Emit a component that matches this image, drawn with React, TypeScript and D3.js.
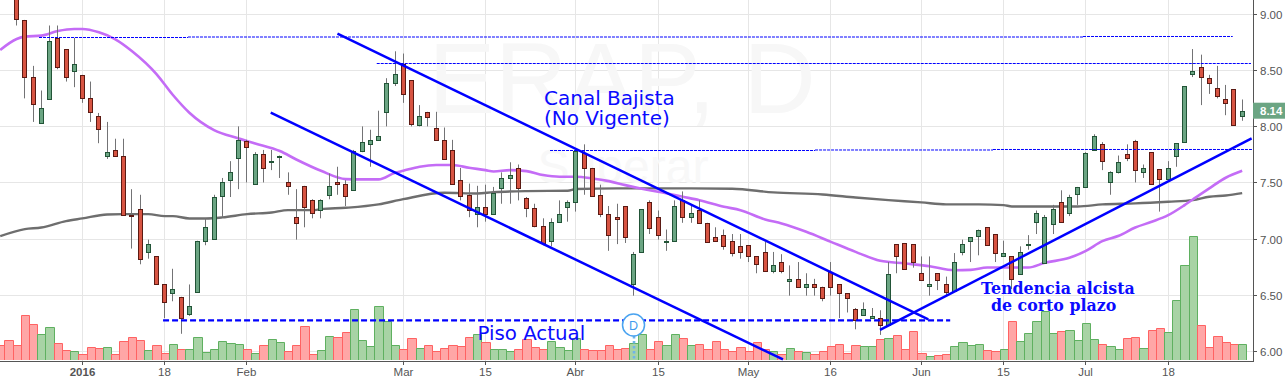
import React from "react";
import * as d3 from "d3";

const opens = [
  9.60,9.45,9.25,8.95,8.44,8.03,8.24,8.79,8.69,8.49,
  8.46,8.25,8.09,7.74,7.79,7.74,7.21,7.26,6.88,6.84,
  6.59,6.51,6.48,6.33,6.52,6.98,7.00,7.38,7.52,7.72,
  7.87,7.49,7.75,7.68,7.73,7.50,7.19,7.47,7.34,7.25,
  7.39,7.50,7.49,7.43,7.78,7.84,7.88,8.13,8.39,8.56,
  8.41,8.01,8.13,7.99,7.88,7.79,7.52,7.39,7.22,7.28,
  7.22,7.45,7.54,7.63,7.36,7.27,7.11,6.98,7.15,7.28,
  7.33,7.76,7.63,7.39,7.22,7.19,7.29,6.59,6.88,7.33,
  7.19,6.97,6.98,7.34,7.19,7.25,7.14,7.01,7.03,6.98,
  6.93,6.94,6.84,6.88,6.71,6.79,6.62,6.64,6.57,6.59,
  6.57,6.70,6.59,6.51,6.37,6.32,6.29,6.29,6.23,6.95,
  6.96,6.95,6.69,6.58,6.69,6.59,6.53,6.88,6.98,7.02,
  7.10,7.04,6.84,6.84,6.68,6.94,7.15,6.78,7.13,7.33,
  7.23,7.40,7.46,7.79,7.84,7.50,7.59,7.75,7.87,7.59,
  7.77,7.62,7.53,7.74,7.86,8.47,8.53,8.43,8.34,8.24,
  8.33,8.09,
];
const highs = [
  9.65,9.50,9.30,8.95,8.54,8.32,8.90,8.90,8.69,8.79,
  8.46,8.40,8.12,8.04,7.89,7.89,7.44,7.39,6.99,6.84,
  6.59,6.73,6.48,6.59,6.98,7.18,7.39,7.54,7.69,8.00,
  7.88,7.77,7.79,7.79,7.74,7.59,7.44,7.47,7.35,7.35,
  7.58,7.64,7.52,7.79,8.00,7.97,8.14,8.43,8.67,8.65,
  8.41,8.19,8.13,8.13,7.99,7.88,7.63,7.49,7.47,7.48,
  7.46,7.59,7.68,7.66,7.37,7.31,7.18,7.18,7.34,7.34,
  7.79,7.84,7.63,7.48,7.29,7.31,7.29,6.88,7.26,7.34,
  7.25,7.08,7.34,7.42,7.29,7.34,7.14,7.10,7.08,7.04,
  7.04,6.94,6.84,6.97,6.88,6.86,6.76,6.79,6.69,6.64,
  6.57,6.79,6.59,6.51,6.38,6.43,6.38,6.36,6.79,6.95,
  6.96,6.95,6.84,6.84,6.69,6.66,6.87,6.99,7.01,7.08,
  7.10,7.04,6.98,6.84,6.93,7.03,7.25,7.21,7.30,7.43,
  7.39,7.46,7.77,7.93,7.86,7.60,7.74,7.84,7.88,7.66,
  7.77,7.62,7.69,7.85,8.36,8.69,8.64,8.46,8.54,8.37,
  8.33,8.24,
];
const lows = [
  9.40,9.20,8.90,8.25,8.04,8.03,8.24,8.51,8.40,8.35,
  8.21,8.04,7.85,7.71,7.74,7.21,6.91,6.77,6.82,6.59,
  6.29,6.44,6.15,6.31,6.52,6.94,7.00,7.19,7.37,7.44,
  7.50,7.49,7.50,7.61,7.54,7.39,6.99,7.10,7.18,7.18,
  7.35,7.39,7.29,7.43,7.77,7.64,7.88,8.00,8.36,8.21,
  8.00,8.00,8.00,7.88,7.71,7.49,7.34,7.19,7.10,7.15,
  7.22,7.31,7.31,7.34,7.19,7.10,6.94,6.93,7.15,7.15,
  7.24,7.39,7.38,7.19,6.89,6.95,6.96,6.49,6.88,7.04,
  6.99,6.89,6.98,7.14,7.14,7.14,6.97,6.98,6.90,6.84,
  6.82,6.79,6.69,6.71,6.69,6.69,6.49,6.57,6.49,6.49,
  6.44,6.49,6.29,6.34,6.19,6.32,6.29,6.14,6.23,6.69,
  6.73,6.74,6.63,6.49,6.54,6.49,6.53,6.85,6.79,6.85,
  6.94,6.79,6.84,6.55,6.68,6.90,7.04,6.78,7.04,7.15,
  7.20,7.30,7.46,7.79,7.61,7.39,7.58,7.69,7.50,7.54,
  7.49,7.24,7.53,7.64,7.86,8.44,8.19,8.29,8.25,8.10,
  8.01,8.05,
];
const closes = [
  9.45,9.25,8.96,8.44,8.20,8.16,8.76,8.53,8.44,8.56,
  8.25,8.13,7.98,7.77,7.74,7.21,7.20,6.82,6.95,6.59,
  6.43,6.55,6.29,6.40,6.98,7.10,7.37,7.50,7.59,7.88,
  7.82,7.75,7.63,7.69,7.74,7.47,7.14,7.28,7.23,7.34,
  7.47,7.49,7.38,7.78,7.86,7.88,7.91,8.39,8.47,8.29,
  8.02,8.09,8.08,7.88,7.71,7.49,7.38,7.25,7.28,7.22,
  7.41,7.54,7.57,7.45,7.27,7.11,6.96,7.15,7.22,7.33,
  7.78,7.63,7.38,7.22,7.03,7.17,7.01,6.86,7.26,7.09,
  7.03,6.98,7.29,7.19,7.23,7.14,6.97,6.98,6.93,6.87,
  6.88,6.84,6.77,6.71,6.76,6.71,6.64,6.57,6.59,6.57,
  6.47,6.57,6.51,6.47,6.27,6.37,6.31,6.23,6.68,6.84,
  6.73,6.79,6.63,6.59,6.63,6.52,6.79,6.95,7.01,7.08,
  6.94,6.87,6.87,6.64,6.88,6.95,7.23,7.19,7.26,7.15,
  7.37,7.46,7.76,7.91,7.69,7.59,7.68,7.72,7.61,7.63,
  7.49,7.53,7.63,7.85,8.36,8.49,8.44,8.39,8.27,8.21,
  8.01,8.14,
];
const volumes = [
  45,60,45,135,108,78,99,51,30,27,
  18,39,36,39,18,57,69,60,30,45,
  21,48,33,33,69,24,33,57,51,48,
  33,21,45,63,54,27,45,102,18,30,
  72,69,84,153,60,42,162,117,45,33,
  66,36,45,27,36,45,42,69,78,54,
  33,33,27,33,63,39,33,57,39,30,
  66,33,30,30,45,33,36,51,78,33,
  57,45,78,66,45,48,33,57,33,27,
  39,27,54,33,27,18,36,27,24,18,
  27,42,48,21,45,42,42,63,66,75,
  33,87,21,12,15,18,42,54,45,48,
  30,27,33,117,57,81,117,147,81,87,
  90,60,111,63,48,42,33,66,69,36,
  90,96,84,180,285,372,105,39,72,54,
  48,48,
];

const maFastIdx = [0,2,3,5,7,9,10,12,14,16,19,21,23,26,29,31,34,36,39,42,44,46,48,49,51,53,55,57,59,60,62,64,66,68,70,72,74,76,78,80,83,85,88,90,93,95,98,101,104,107,110,113,116,118,120,122,125,127,130,132,134,136,138,140,142,144,145,147,149,151];
const maFastVal = [8.682,8.780,8.801,8.810,8.851,8.869,8.869,8.839,8.777,8.673,8.467,8.280,8.122,7.967,7.893,7.848,7.780,7.705,7.604,7.530,7.527,7.527,7.586,7.604,7.640,7.655,7.655,7.631,7.610,7.598,7.610,7.601,7.566,7.551,7.551,7.536,7.512,7.476,7.444,7.417,7.372,7.342,7.283,7.253,7.170,7.134,7.060,6.970,6.881,6.801,6.777,6.753,6.717,6.720,6.741,6.741,6.741,6.783,6.828,6.890,6.976,7.024,7.098,7.149,7.208,7.298,7.348,7.447,7.542,7.604];
const maSlowIdx = [0,3,5,8,10,13,15,18,20,21,23,25,27,30,33,35,38,39,42,46,49,54,58,60,64,69,70,75,82,89,94,100,104,108,112,115,117,119,122,123,129,131,134,138,142,145,147,149,151];
const maSlowVal = [7.021,7.084,7.098,7.155,7.179,7.214,7.217,7.217,7.200,7.200,7.179,7.179,7.188,7.217,7.232,7.253,7.253,7.262,7.274,7.304,7.351,7.408,7.402,7.414,7.423,7.426,7.441,7.447,7.447,7.444,7.411,7.393,7.366,7.342,7.322,7.304,7.304,7.304,7.298,7.286,7.286,7.286,7.304,7.313,7.328,7.342,7.372,7.384,7.405];

const priceTicks = [9, 8.5, 8, 7.5, 7, 6.5, 6];
const timeTickIdx = [10,20,30,49,59,70,80,91,101,112,122,132,142];
const timeTickText = ["2016","18","Feb","Mar","15","Abr","15","May","16","Jun","15","Jul","18"];
const lastPriceLabel = "8.14";

// [startIdx, startPrice, endIdx, endPrice]
const trendLines = [
  [41, 8.827, 112.84, 6.279],
  [32.89, 8.122, 95.17, 5.921],
  [106.97, 6.184, 152.15, 7.894],
];
const floorLine = [19.8, 6.27, 115.5, 6.27];
// [startIdx, endIdx, price]
const levelSegments = [
  [4.72, 22.83, 8.793],[22.83, 131.65, 8.7975],[131.65, 149.85, 8.802],
  [45.78, 152.07, 8.561],
  [66.85, 99.07, 7.785],[99.07, 120.7, 7.7895],[120.7, 152.3, 7.794],
];

const W = 1287, H = 380;
const AXIS_X = 1253, AXIS_Y = 361;
const x = d3.scaleLinear().domain([0, 151]).range([0.2, 1242.175]);
const y = d3.scaleLinear().domain([6, 9]).range([350.6, 14.3]);
const vol = d3.scaleLinear().domain([0, 400]).range([360.3, 227]);
const BLUE = "#0000ff";
const AXIS_FONT = "'Liberation Sans', Arial, sans-serif";
const col = (i: number) => Math.floor(x(i)) + 0.5;
const row = (p: number) => Math.round(y(p)) + 0.5;
const edge = (i: number) => Math.round(x(i - 0.5));

const maPath = (idx: number[], val: number[]) =>
  d3.line<number>().x((_, k) => x(idx[k])).y((v) => y(v)).curve(d3.curveMonotoneX)(val) || "";

export default function App() {
  return (
    <svg width={W} height={H} viewBox={`0 0 ${W} ${H}`} style={{ position: "absolute", left: 0, top: 0, background: "#fff" }}>
      <defs>
        <clipPath id="plot"><rect x={0} y={0} width={AXIS_X} height={AXIS_Y} /></clipPath>
      </defs>

      {/* grid */}
      <g stroke="#e6e6e6" strokeWidth={1}>
        {priceTicks.map((p) => <line key={p} x1={0} x2={AXIS_X} y1={row(p)} y2={row(p)} />)}
        {timeTickIdx.map((i) => <line key={i} x1={col(i)} x2={col(i)} y1={0} y2={AXIS_Y} />)}
      </g>

      {/* watermark */}
      <text x={622} y={113} textAnchor="middle" fontFamily={AXIS_FONT} fontSize={100} fill="#f7f7f7">ERAP, D</text>
      <text x={623} y={183} textAnchor="middle" fontFamily={AXIS_FONT} fontSize={48} fill="#f8f8f8">Superar</text>

      <g clipPath="url(#plot)">
        {/* volume */}
        {volumes.map((v, i) => {
          const up = closes[i] >= opens[i];
          const x0 = edge(i) + 0.5, x1 = edge(i + 1) + 0.5, t = Math.round(vol(v)) + 0.5;
          return (
            <g key={i}>
              <rect x={x0} y={t} width={x1 - x0} height={360 - t} fill={up ? "#a8d3a5" : "#ffa6a6"} />
              <path d={`M${x0},360V${t}H${x1}V360`} fill="none" stroke={up ? "#5fb060" : "#ff6262"} />
            </g>
          );
        })}

        {/* moving averages */}
        <path d={maPath(maSlowIdx, maSlowVal)} fill="none" stroke="#6e6e6e" strokeWidth={2.4} />
        <path d={maPath(maFastIdx, maFastVal)} fill="none" stroke="#c46cf6" strokeWidth={2.6} />

        {/* candles */}
        {opens.map((o, i) => {
          const c = closes[i], up = c >= o;
          const cx = col(i);
          const t = row(Math.max(o, c));
          const b = Math.max(row(Math.min(o, c)), t + 1);
          return (
            <g key={i}>
              <line x1={cx} x2={cx} y1={y(highs[i])} y2={y(lows[i])} stroke="#737375" />
              <rect x={cx - 2} y={t} width={4} height={b - t} fill={up ? "#6ba583" : "#d75442"} stroke={up ? "#225437" : "#5b1a13"} />
            </g>
          );
        })}
      </g>

      {/* horizontal levels */}
      {levelSegments.map((s, k) => (
        <line key={k} x1={x(s[0])} x2={x(s[1])} y1={y(s[2])} y2={y(s[2])} stroke={BLUE} strokeWidth={1} strokeDasharray="3 1" />
      ))}

      {/* floor */}
      <line x1={x(floorLine[0])} x2={x(floorLine[2])} y1={y(floorLine[1])} y2={y(floorLine[3])} stroke={BLUE} strokeWidth={2.4} strokeDasharray="6 3" />

      {/* trend lines */}
      {trendLines.map((l, k) => (
        <line key={k} x1={x(l[0])} y1={y(l[1])} x2={x(l[2])} y2={y(l[3])} stroke={BLUE} strokeWidth={2.5} />
      ))}

      {/* dividend marker */}
      <line x1={x(77) + 0.5} x2={x(77) + 0.5} y1={336} y2={360} stroke="#6fb4e8" strokeWidth={2.6} strokeDasharray="2.5 2.5" />
      <circle cx={x(77)} cy={y(6.228)} r={11} fill="#fff" stroke="#4aa3f0" strokeWidth={1.5} />
      <text x={x(77)} y={y(6.228) + 4.5} textAnchor="middle" fontFamily={AXIS_FONT} fontSize={12.5} fill="#3f9bee">D</text>

      {/* annotations */}
      <g fontFamily="'DejaVu Sans', sans-serif" fill="#0a0aff">
        <text x={544} y={105} fontSize={20}>Canal Bajista</text>
        <text x={544} y={125} fontSize={20}>(No Vigente)</text>
        <text x={477.5} y={340} fontSize={19.8}>Piso Actual</text>
      </g>
      <g fontFamily="'DejaVu Serif', serif" fontWeight="bold" fill="#0a0aff" fontSize={15.8}>
        <text x={981} y={294.3}>Tendencia alcista</text>
        <text x={991} y={310.7}>de corto plazo</text>
      </g>

      {/* axes */}
      <line x1={0} x2={AXIS_X + 0.5} y1={AXIS_Y + 0.5} y2={AXIS_Y + 0.5} stroke="#555" />
      <line x1={AXIS_X + 0.5} x2={AXIS_X + 0.5} y1={0} y2={AXIS_Y + 1} stroke="#555" />
      {priceTicks.map((p) => (
        <g key={p}>
          <line x1={AXIS_X} x2={AXIS_X + 4} y1={row(p)} y2={row(p)} stroke="#555" />
          <text x={1260} y={row(p) + 4} fontFamily={AXIS_FONT} fontSize={11.5} fill="#555">{p.toFixed(2)}</text>
        </g>
      ))}
      {timeTickIdx.map((i, k) => (
        <g key={i}>
          <line x1={col(i)} x2={col(i)} y1={AXIS_Y} y2={AXIS_Y + 4} stroke="#555" />
          <text x={col(i)} y={376} textAnchor="middle" fontFamily={AXIS_FONT} fontSize={11.5} fontWeight={timeTickText[k] === "2016" ? "bold" : "normal"} fill="#555">{timeTickText[k]}</text>
        </g>
      ))}

      {/* last price */}
      <rect x={AXIS_X} y={y(closes[151]) - 8} width={32} height={16} fill="#6ba583" />
      <text x={1260} y={y(closes[151]) + 4} fontFamily={AXIS_FONT} fontSize={11.5} fontWeight="bold" fill="#fff">{lastPriceLabel}</text>
    </svg>
  );
}
